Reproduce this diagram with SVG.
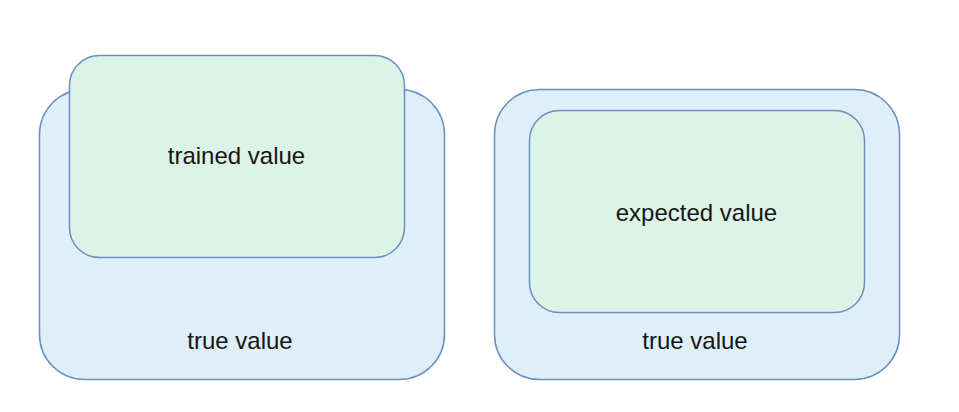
<svg xmlns="http://www.w3.org/2000/svg" width="959" height="412" viewBox="0 0 959 412">
  <style>
    .outer { fill: #deeffa; stroke: #6c8ebf; stroke-width: 1.5; }
    .inner { fill: #dcf3e8; stroke: #6c8ebf; stroke-width: 1.5; }
    .label { font-family: "Liberation Sans", Arial, sans-serif; font-size: 24px; fill: #161616; text-anchor: middle; }
  </style>
  <rect width="959" height="412" fill="#ffffff"/>
  <g id="left-true">
    <rect class="outer" x="39.5" y="89.5" width="405" height="290" rx="45" ry="45"/>
    <text class="label" x="240" y="348.5">true value</text>
  </g>
  <g id="left-trained">
    <rect class="inner" x="69.5" y="55.5" width="335" height="202" rx="30" ry="30"/>
    <text class="label" x="236.5" y="163.5">trained value</text>
  </g>
  <g id="right-true">
    <rect class="outer" x="494.5" y="89.5" width="405" height="290" rx="45" ry="45"/>
    <text class="label" x="695" y="348.5">true value</text>
  </g>
  <g id="right-expected">
    <rect class="inner" x="529.5" y="110.5" width="335" height="202" rx="30" ry="30"/>
    <text class="label" x="696.5" y="220.5">expected value</text>
  </g>
  <g id="connectors"/>
</svg>
